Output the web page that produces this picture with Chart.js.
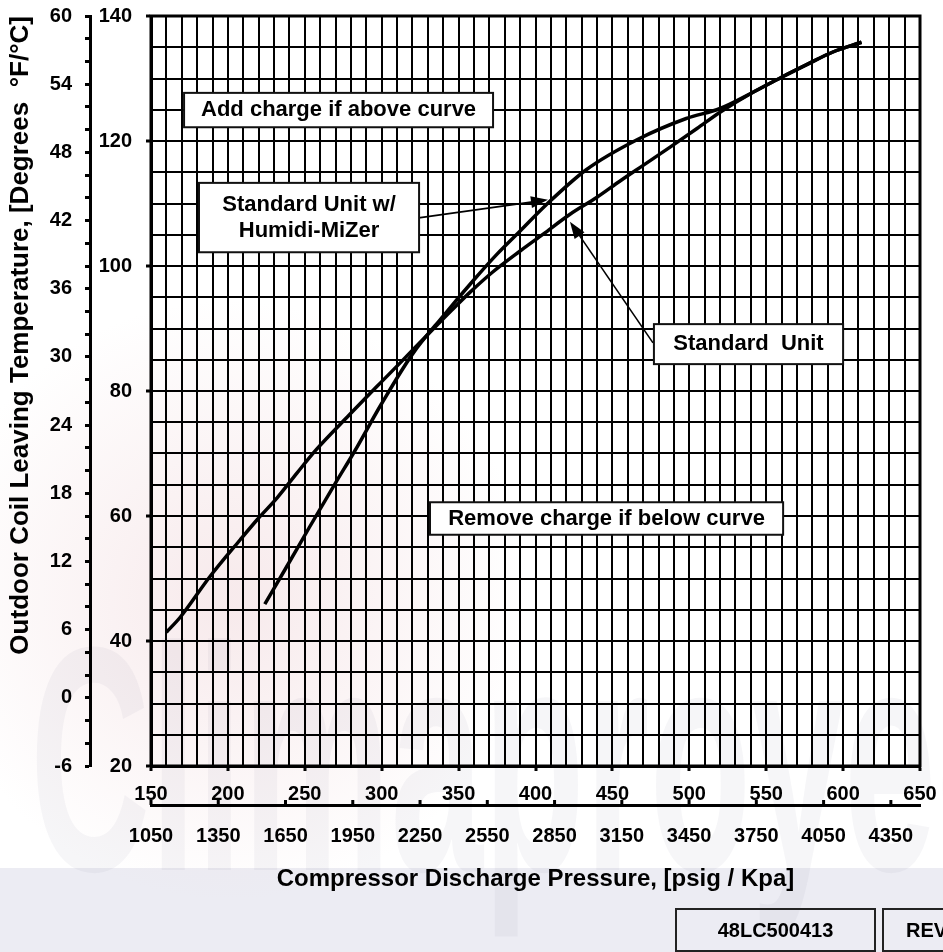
<!DOCTYPE html>
<html>
<head>
<meta charset="utf-8">
<script src="https://cdn.jsdelivr.net/npm/chart.js@4.4.0/dist/chart.umd.min.js"></script>
<style>
  html, body { margin: 0; padding: 0; background: #fff; }
  #wrap { width: 943px; height: 952px; }
</style>
</head>
<body>
<div id="wrap"><canvas id="canvas" width="943" height="952"></canvas></div>
<script>
// Standard Unit
var stdPsig = [160, 169, 188, 208, 219, 232, 245, 257, 279, 290, 300, 312, 333, 345, 357, 372, 390, 405, 422, 440, 455, 470, 488, 505, 520, 540, 560, 577, 593, 612];
var stdTemp = [41.4, 43.8, 50.2, 56.2, 59.4, 62.9, 66.9, 70.5, 76.2, 79.0, 81.5, 84.5, 89.8, 92.8, 95.7, 99.0, 102.4, 105.1, 108.2, 111.0, 113.6, 116.1, 119.1, 122.0, 124.6, 127.6, 130.2, 132.3, 134.2, 135.8];

// Standard Unit w/ Humidi-MiZer
var hmzPsig = [224, 238, 253, 270, 282, 300, 320, 340, 360, 375, 390, 407, 433, 466, 498, 520, 540, 560, 577, 593, 612];
var hmzTemp = [45.9, 51.8, 58.2, 65.3, 70.2, 78.0, 85.9, 92.0, 97.8, 101.9, 105.6, 109.8, 115.4, 120.2, 123.6, 125.2, 127.6, 130.2, 132.3, 134.2, 135.8];

// tick labels
var psigLabels = [150, 200, 250, 300, 350, 400, 450, 500, 550, 600, 650];
var kpaLabels = [1050, 1350, 1650, 1950, 2250, 2550, 2850, 3150, 3450, 3750, 4050, 4350];
var fLabels = [20, 40, 60, 80, 100, 120, 140];
var cLabels = [-6, 0, 6, 12, 18, 24, 30, 36, 42, 48, 54, 60];

var notes = [
  { text: ['Add charge if above curve'], box: [171.5, 372.4, 122.2, 127.7] },
  { text: ['Standard Unit w/', 'Humidi-MiZer'], box: [181.2, 324.3, 102.2, 113.3] },
  { text: ['Standard  Unit'], box: [477, 600, 84.3, 90.7] },
  { text: ['Remove charge if below curve'], box: [331.4, 561, 57, 62.2] }
];
var arrows = [
  { from: [324, 107.7], to: [408.1, 110.6] },
  { from: [476.4, 87.7], to: [422.4, 107.1] }
];

var FONT = "'Liberation Sans', Arial, sans-serif";
Chart.defaults.font.family = FONT;
Chart.defaults.color = '#000';

function pts(xs, ys) {
  return xs.map(function (x, i) { return { x: x, y: ys[i] }; });
}
function noPadV(s) { s.paddingTop = 0; s.paddingBottom = 0; }
function noPadH(s) { s.paddingLeft = 0; s.paddingRight = 0; }

var backdrop = {
  id: 'backdrop',
  beforeDraw: function (chart) {
    var ctx = chart.ctx;
    ctx.save();
    ctx.fillStyle = '#fff';
    ctx.fillRect(0, 0, chart.width, chart.height);
    // faint watermark
    ctx.fillStyle = 'rgba(236,236,243,1)';
    ctx.fillRect(0, 868, chart.width, chart.height - 868);
    var g = ctx.createRadialGradient(230, 600, 20, 230, 600, 300);
    g.addColorStop(0, 'rgba(240,215,218,0.5)');
    g.addColorStop(1, 'rgba(240,215,218,0)');
    ctx.fillStyle = g;
    ctx.fillRect(0, 300, 600, 652);
    ctx.translate(30, 870);
    ctx.scale(0.52, 1);
    ctx.font = 'bold 320px ' + FONT;
    ctx.fillStyle = 'rgba(110,110,135,0.06)';
    ctx.fillText('Climaproyect', 0, 0);
    ctx.restore();
  }
};

var extras = {
  id: 'extras',
  afterDatasetsDraw: function (chart) {
    var ctx = chart.ctx, a = chart.chartArea;
    var sx = chart.scales.x, sy = chart.scales.y;
    ctx.save();
    // frame
    ctx.strokeStyle = '#000';
    ctx.lineWidth = 3;
    ctx.strokeRect(a.left, a.top, a.right - a.left, a.bottom - a.top);

    // arrows
    arrows.forEach(function (ar) {
      var x0 = sx.getPixelForValue(ar.from[0]), y0 = sy.getPixelForValue(ar.from[1]);
      var x1 = sx.getPixelForValue(ar.to[0]), y1 = sy.getPixelForValue(ar.to[1]);
      var ang = Math.atan2(y1 - y0, x1 - x0);
      ctx.lineWidth = 1.6;
      ctx.beginPath();
      ctx.moveTo(x0, y0);
      ctx.lineTo(x1 - 10 * Math.cos(ang), y1 - 10 * Math.sin(ang));
      ctx.stroke();
      ctx.beginPath();
      ctx.moveTo(x1, y1);
      ctx.lineTo(x1 - 17 * Math.cos(ang) + 6 * Math.sin(ang), y1 - 17 * Math.sin(ang) - 6 * Math.cos(ang));
      ctx.lineTo(x1 - 17 * Math.cos(ang) - 6 * Math.sin(ang), y1 - 17 * Math.sin(ang) + 6 * Math.cos(ang));
      ctx.closePath();
      ctx.fillStyle = '#000';
      ctx.fill();
    });

    // note boxes
    ctx.font = 'bold 22px ' + FONT;
    ctx.textAlign = 'center';
    ctx.textBaseline = 'middle';
    notes.forEach(function (n) {
      var l = sx.getPixelForValue(n.box[0]), r = sx.getPixelForValue(n.box[1]);
      var b = sy.getPixelForValue(n.box[2]), t = sy.getPixelForValue(n.box[3]);
      ctx.fillStyle = '#fff';
      ctx.fillRect(l, t, r - l, b - t);
      ctx.lineWidth = 2;
      ctx.strokeStyle = '#111';
      ctx.strokeRect(l, t, r - l, b - t);
      ctx.fillStyle = '#000';
      var cy = (t + b) / 2, cx = (l + r) / 2;
      n.text.forEach(function (s, i) {
        ctx.fillText(s, cx, cy + (i - (n.text.length - 1) / 2) * 26);
      });
    });
    ctx.restore();
  },
  afterDraw: function (chart) {
    var ctx = chart.ctx, k = chart.scales.x2;
    ctx.save();
    // kPa ticks point upward from their axis line
    ctx.strokeStyle = '#000';
    ctx.lineWidth = 3;
    kpaLabels.forEach(function (v) {
      var px = k.getPixelForValue(v);
      ctx.beginPath();
      ctx.moveTo(px, k.top);
      ctx.lineTo(px, k.top - 5);
      ctx.stroke();
    });
    // drawing number boxes
    ctx.lineWidth = 2;
    ctx.strokeStyle = '#222';
    ctx.strokeRect(676, 909, 199, 42);
    ctx.strokeRect(883, 909, 80, 42);
    ctx.fillStyle = '#000';
    ctx.font = 'bold 20px ' + FONT;
    ctx.textBaseline = 'middle';
    ctx.textAlign = 'center';
    ctx.fillText('48LC500413', 775.5, 931);
    ctx.textAlign = 'left';
    ctx.fillText('REV', 906, 931);
    ctx.restore();
  }
};

var tickFont = { size: 20, weight: 'bold' };

var config = {
  type: 'line',
  data: {
    datasets: [{
      label: 'Standard Unit',
      data: pts(stdPsig, stdTemp),
      borderColor: '#000',
      borderWidth: 3.5,
      pointRadius: 0,
      fill: false,
      cubicInterpolationMode: 'monotone'
    }, {
      label: 'Standard Unit w/ Humidi-MiZer',
      data: pts(hmzPsig, hmzTemp),
      borderColor: '#000',
      borderWidth: 3.5,
      pointRadius: 0,
      fill: false,
      cubicInterpolationMode: 'monotone'
    }]
  },
  options: {
    responsive: false,
    animation: false,
    layout: { padding: { top: 16, right: 23, bottom: 52, left: 0 } },
    plugins: { legend: { display: false }, tooltip: { enabled: false } },
    scales: {
      x: {
        type: 'linear', position: 'bottom', weight: 0,
        min: 150, max: 650,
        afterFit: function (s) { s.height = 39; noPadH(s); },
        ticks: {
          stepSize: 10, autoSkip: false, maxRotation: 0, padding: 11, font: tickFont,
          callback: function (v) { return psigLabels.indexOf(v) >= 0 ? String(v) : ''; }
        },
        grid: {
          color: '#000', lineWidth: 2, tickLength: 5, tickWidth: 3,
          tickColor: function (c) { return c.tick && psigLabels.indexOf(c.tick.value) >= 0 ? '#000' : 'rgba(0,0,0,0)'; }
        },
        border: { color: '#000', width: 3 }
      },
      x2: {
        type: 'linear', position: 'bottom', weight: 1,
        min: 1050, max: 4480,
        afterFit: function (s) { s.height = 95; noPadH(s); },
        afterBuildTicks: function (s) { s.ticks = kpaLabels.map(function (v) { return { value: v }; }); },
        ticks: {
          autoSkip: false, maxRotation: 0, padding: 19, font: tickFont,
          callback: function (v) { return String(v); }
        },
        grid: { drawOnChartArea: false, drawTicks: false, color: 'rgba(0,0,0,0)' },
        border: { color: '#000', width: 3 },
        title: {
          display: true, text: 'Compressor Discharge Pressure, [psig / Kpa]',
          font: { size: 24, weight: 'bold' }, padding: { top: 0, bottom: 6 }
        }
      },
      y: {
        type: 'linear', position: 'left', weight: 0,
        min: 20, max: 140,
        afterFit: function (s) { s.width = 61; noPadV(s); },
        ticks: {
          stepSize: 5, autoSkip: false, padding: 14, font: tickFont,
          callback: function (v) { return fLabels.indexOf(v) >= 0 ? String(v) : ''; }
        },
        grid: {
          color: '#000', lineWidth: 2, tickLength: 5, tickWidth: 3,
          tickColor: function (c) { return c.tick && fLabels.indexOf(c.tick.value) >= 0 ? '#000' : 'rgba(0,0,0,0)'; }
        },
        border: { color: '#000', width: 3 }
      },
      yc: {
        type: 'linear', position: 'left', weight: 1,
        min: -6, max: 60,
        afterFit: function (s) { s.width = 90; noPadV(s); },
        ticks: {
          stepSize: 2, autoSkip: false, padding: 13, font: tickFont,
          callback: function (v) { return cLabels.indexOf(v) >= 0 ? String(v) : ''; }
        },
        grid: { drawOnChartArea: false, color: '#000', tickLength: 5, tickWidth: 3 },
        border: { color: '#000', width: 3 },
        title: {
          display: true, text: 'Outdoor Coil Leaving Temperature, [Degrees  \u00B0F/\u00B0C]',
          align: 'end', font: { size: 26, weight: 'bold' }, padding: { top: 5, bottom: 0 }
        }
      }
    }
  },
  plugins: [backdrop, extras]
};

window.onload = function () {
  window.myChart = new Chart(document.getElementById('canvas'), config);
};
</script>
</body>
</html>
